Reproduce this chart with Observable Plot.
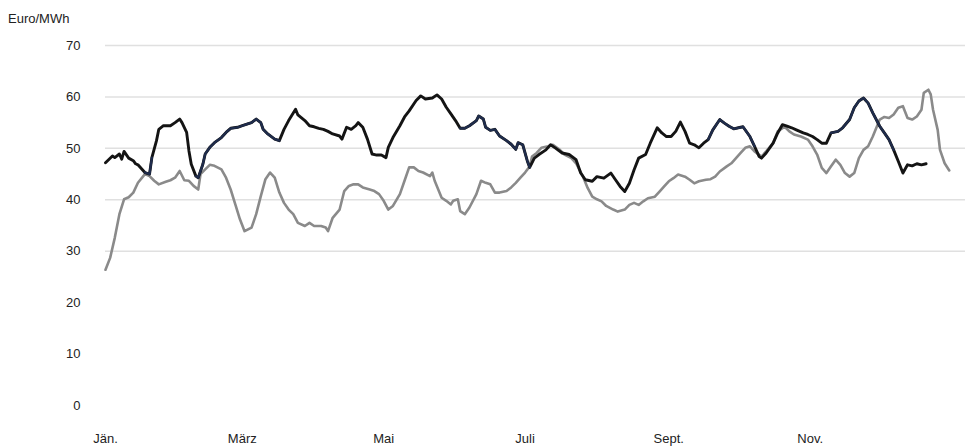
<!DOCTYPE html>
<html>
<head>
<meta charset="utf-8">
<script src="https://cdn.jsdelivr.net/npm/d3@7"></script>
<script src="https://cdn.jsdelivr.net/npm/@observablehq/plot@0.6"></script>
<style>
  body { margin: 0; background: #fff; font-family: "Liberation Sans", Arial, sans-serif; }
  #unit { height: 30px; box-sizing: border-box; padding: 8px 0 0 8px; font-size: 13px; line-height: 22px; color: #222; }
</style>
</head>
<body>
<div id="unit">Euro/MWh</div>
<div id="chart"></div>
<script>
// x = day of year, y = Euro/MWh
const monthLabels = ["Jän.", "März", "Mai", "Juli", "Sept.", "Nov."];
const monthDays = [0, 59, 120, 181, 243, 304];
const yTicks = [0, 10, 20, 30, 40, 50, 60, 70];
const gridValues = [30, 40, 50, 60, 70];

const blackDay = [0,3,4,6,7,8,10,12,13,14,17,19,20,22,23,25,28,30,32,33,35,36,37,39,40,42,43,45,47,50,52,54,57,59,61,63,65,67,68,70,73,75,77,79,82,83,86,88,90,92,94,96,98,101,102,104,106,108,109,111,113,115,117,119,121,122,124,127,129,131,134,136,138,141,143,145,147,149,151,153,155,157,160,161,163,164,166,168,170,173,175,177,178,180,182,183,185,187,190,192,194,197,200,203,205,207,210,212,215,218,220,222,224,226,228,230,233,235,238,240,242,244,246,248,250,252,254,256,258,260,262,265,267,269,271,273,275,278,280,282,283,285,288,290,292,294,296,298,301,303,305,307,309,311,313,316,318,321,323,325,327,329,331,334,336,338,340,342,344,346,348,350,352,354];
const blackVal = [47.2,48.5,48.2,48.9,47.9,49.4,48.1,47.6,47.0,46.8,45.3,45.0,48.2,51.5,53.7,54.4,54.4,55.0,55.7,55.0,53.1,49.5,46.9,44.6,44.3,46.9,48.9,50.2,51.1,52.1,53.1,53.9,54.1,54.4,54.7,55.0,55.7,55.0,53.7,52.8,51.8,51.5,53.7,55.4,57.6,56.5,55.4,54.4,54.2,53.9,53.7,53.3,52.8,52.4,51.8,54.1,53.7,54.4,55.0,54.1,51.8,48.9,48.7,48.7,48.2,50.2,52.1,54.4,56.1,57.3,59.3,60.2,59.6,59.8,60.4,59.6,58.0,56.7,55.4,53.9,53.9,54.4,55.4,56.3,55.7,54.1,53.5,53.7,52.4,51.5,50.8,49.8,51.1,50.7,47.5,46.3,48.1,48.8,49.7,50.7,50.1,49.1,48.8,47.8,45.2,43.9,43.6,44.5,44.2,45.2,43.9,42.6,41.6,43.2,45.8,48.1,48.8,51.0,54.0,53.0,52.3,52.3,53.3,55.1,53.3,51.0,50.7,50.1,51.0,51.7,53.6,55.6,54.9,54.3,53.8,54.0,54.2,52.3,50.4,48.4,48.1,49.1,51.0,53.0,54.6,54.3,54.0,53.6,53.0,52.7,52.3,51.7,51.0,51.0,53.0,53.3,54.0,55.6,57.9,59.2,59.8,58.8,56.9,54.3,53.0,51.7,49.7,47.5,45.2,46.8,46.6,47.0,46.8,47.0];

const grayDay = [0,2,4,6,8,10,12,14,17,19,21,23,26,28,30,32,34,36,38,40,41,43,45,47,50,52,54,56,58,60,63,65,67,69,71,73,75,77,79,81,83,86,88,90,93,95,96,98,101,103,105,107,109,111,114,116,118,120,122,124,127,129,131,133,135,137,140,141,142,145,147,149,150,152,153,155,157,160,162,164,166,168,170,173,175,177,179,181,183,184,186,188,191,193,196,198,201,203,206,208,210,212,214,216,219,221,224,226,228,230,232,234,237,239,241,243,245,247,250,252,254,256,259,261,263,265,268,270,272,274,276,278,280,283,285,288,290,293,295,297,300,303,305,307,309,311,313,315,317,319,321,323,325,327,329,331,334,336,338,340,342,344,346,348,350,352,353,355,356,357,359,360,362,364];
const grayVal = [26.4,28.7,32.6,37.2,40.1,40.5,41.4,43.3,45.0,44.6,43.7,43.0,43.5,43.8,44.3,45.6,43.8,43.7,42.7,42.0,45.0,45.9,46.8,46.6,45.9,44.3,42.0,39.1,36.2,33.9,34.6,37.2,40.7,44.0,45.3,44.3,41.4,39.4,38.1,37.2,35.5,34.9,35.5,34.9,34.9,34.6,33.9,36.5,38.1,41.7,42.7,43.0,43.0,42.4,42.0,41.7,41.1,39.8,38.1,38.8,41.1,43.7,46.3,46.3,45.6,45.3,44.6,45.3,43.7,40.4,39.8,39.1,39.8,40.1,37.8,37.2,38.5,41.1,43.7,43.3,43.0,41.4,41.4,41.7,42.4,43.3,44.3,45.3,46.5,48.4,49.1,50.1,50.4,50.7,49.7,48.8,48.1,47.1,44.5,42.3,40.6,40.1,39.7,38.8,38.1,37.7,38.1,39.0,39.4,39.0,39.7,40.3,40.6,41.6,42.6,43.6,44.2,44.9,44.5,43.9,43.2,43.6,43.9,44.0,44.5,45.5,46.5,47.1,48.1,49.1,50.1,50.4,49.4,48.4,49.4,51.0,53.3,54.2,53.3,52.7,52.3,51.7,50.4,48.8,46.2,45.2,46.5,47.8,46.8,45.2,44.5,45.2,48.1,49.7,50.4,52.3,55.6,56.1,55.9,56.6,57.9,58.2,55.9,55.6,56.2,57.5,60.8,61.4,60.5,57.5,53.6,49.7,47.1,45.7];

// stretches of the dark line that print in navy
const navyRanges = [[16, 20], [39, 75], [153, 183], [260, 280], [313, 340]];

const black = blackDay.map((d, i) => ({day: d, value: blackVal[i]}));
const gray = grayDay.map((d, i) => ({day: d, value: grayVal[i]}));
const navy = [];
navyRanges.forEach(([a, b], k) => {
  black.forEach(p => { if (p.day >= a && p.day <= b) navy.push({...p, seg: k}); });
});

const chart = Plot.plot({
  width: 965,
  height: 416,
  marginTop: 15,
  marginBottom: 41,
  marginLeft: 105,
  marginRight: 0,
  style: {fontFamily: "'Liberation Sans', Arial, sans-serif", fontSize: "13px", color: "#222", background: "#fff"},
  x: {domain: [0, 371], axis: null},
  y: {domain: [0, 70], axis: null},
  marks: [
    Plot.ruleY(gridValues, {stroke: "#e0e0e0", strokeWidth: 1.5}),
    Plot.axisY(yTicks, {tickSize: 0, tickPadding: 25, label: null, tickFormat: d => d, fill: "#222"}),
    Plot.axisX(monthDays, {tickSize: 0, tickPadding: 28, label: null, tickFormat: (d, i) => monthLabels[i], fill: "#222"}),
    Plot.line(gray, {x: "day", y: "value", stroke: "#8a8a8a", strokeWidth: 2.6}),
    Plot.line(black, {x: "day", y: "value", stroke: "#141414", strokeWidth: 2.9}),
    Plot.line(navy, {x: "day", y: "value", z: "seg", stroke: "#1f2c4c", strokeWidth: 2.3})
  ]
});
document.getElementById("chart").appendChild(chart);
</script>
</body>
</html>
